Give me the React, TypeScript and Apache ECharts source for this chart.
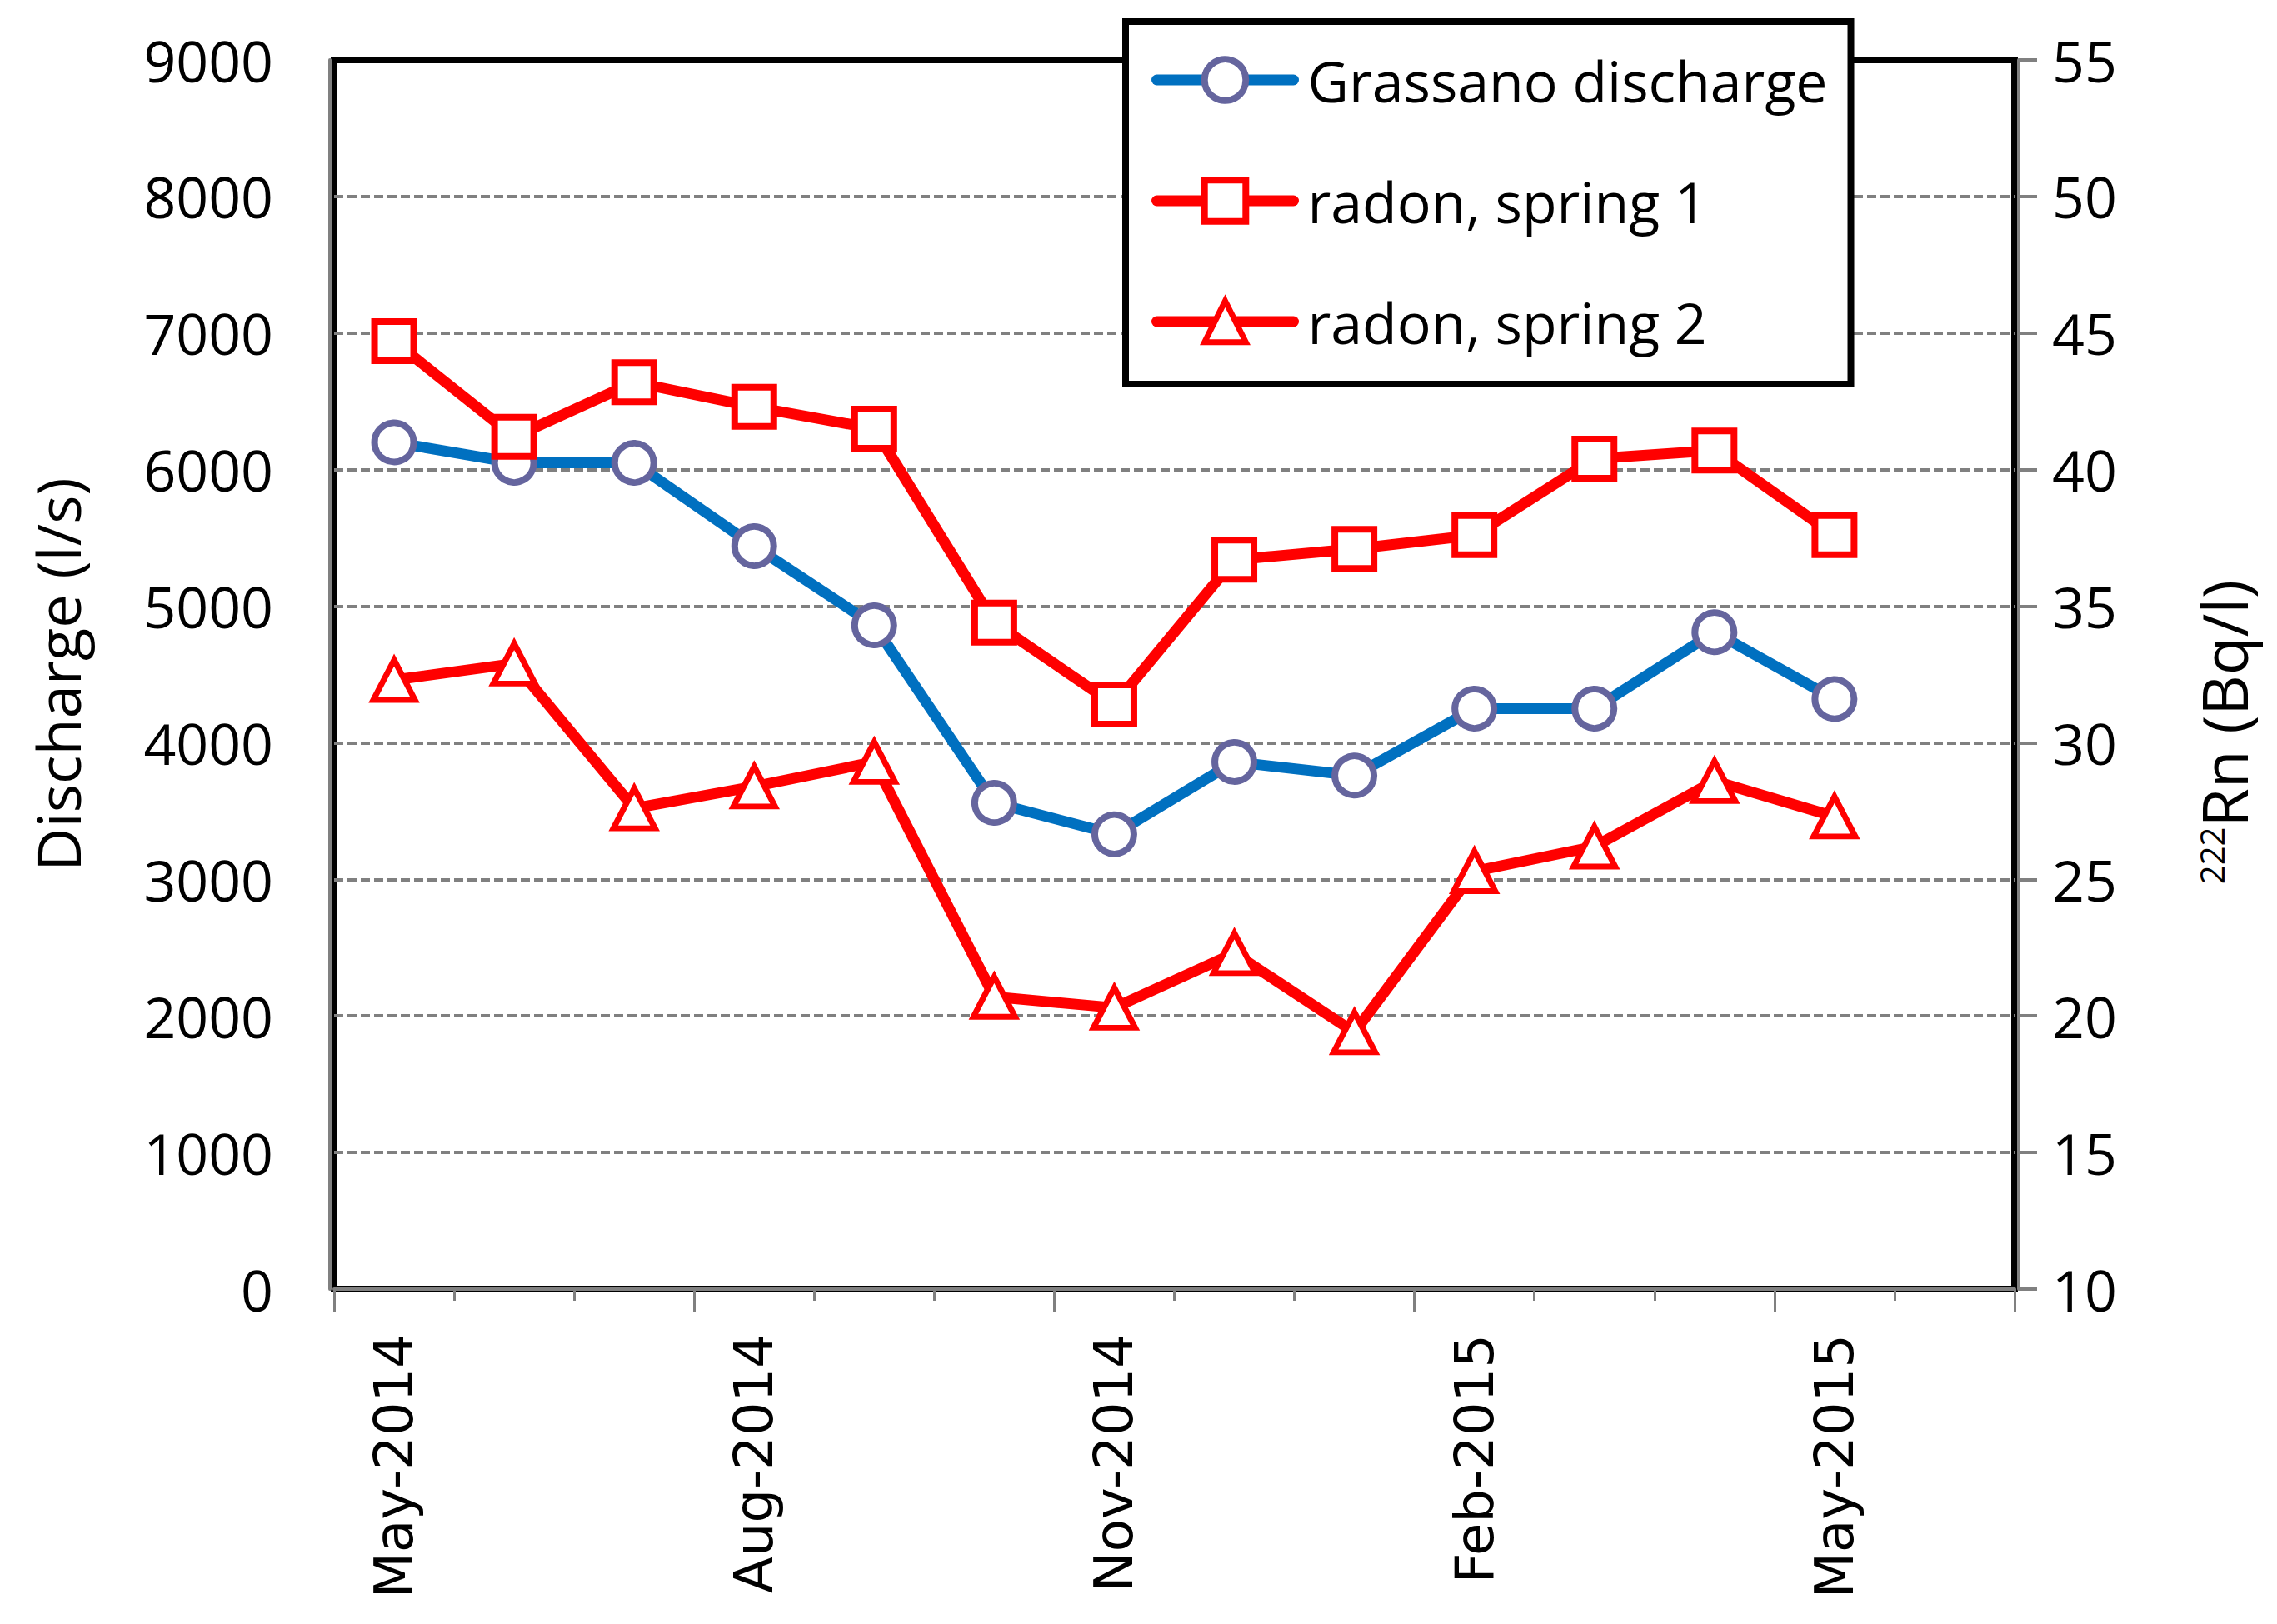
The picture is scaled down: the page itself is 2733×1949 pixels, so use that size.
import React, { useEffect, useRef } from "react";
import * as echarts from "echarts";

const categories = [
  "May-2014", "Jun-2014", "Jul-2014", "Aug-2014", "Sep-2014", "Oct-2014", "Nov-2014",
  "Dec-2014", "Jan-2015", "Feb-2015", "Mar-2015", "Apr-2015", "May-2015", "Jun-2015",
];
const discharge = [6200, 6050, 6050, 5440, 4860, 3560, 3330, 3860, 3760, 4250, 4250, 4810, 4320];
const radonSpring1 = [44.7, 41.2, 43.2, 42.3, 41.5, 34.4, 31.4, 36.7, 37.1, 37.6, 40.4, 40.7, 37.6];
const radonSpring2 = [32.3, 32.9, 27.6, 28.4, 29.3, 20.7, 20.3, 22.3, 19.4, 25.3, 26.2, 28.6, 27.3];
const leftTicks = { min: 0, max: 9000, interval: 1000 };
const rightTicks = { min: 10, max: 55, interval: 5 };

const FONT = "'Open Sans', 'Noto Sans', sans-serif";
const XFONT = "'DejaVu Sans', Verdana, sans-serif";
const GREY = "#808080";
const BLUE = "#0070C0";
const CIRCLE = "#65659E";
const RED = "#FF0000";

export default function App() {
  const ref = useRef<HTMLDivElement>(null);
  useEffect(() => {
    if (!ref.current) return;
    const chart = echarts.init(ref.current, null, { renderer: "svg" });
    const option: any = {
      animation: false,
      backgroundColor: "#fff",
      grid: {
        left: 401,
        right: 315,
        top: 72,
        bottom: 402,
        show: true,
        borderColor: "#000",
        borderWidth: 8,
        backgroundColor: "transparent",
      },
      legend: {
        orient: "vertical",
        left: 1351,
        top: 26,
        backgroundColor: "#fff",
        borderColor: "#000",
        borderWidth: 8,
        padding: [36, 28, 41, 31],
        itemWidth: 164,
        itemHeight: 62,
        itemGap: 77,
        z: 10,
        textStyle: {
          fontFamily: FONT,
          fontSize: 68,
          color: "#000",
          padding: [0, 0, 0, 12],
        },
        data: [
          {
            name: "Grassano discharge",
            itemStyle: { color: "#fff", borderColor: CIRCLE, borderWidth: 8 },
            lineStyle: { color: BLUE, width: 13 },
          },
          {
            name: "radon, spring 1",
            itemStyle: { color: "#fff", borderColor: RED, borderWidth: 8 },
            lineStyle: { color: RED, width: 13 },
          },
          {
            name: "radon, spring 2",
            itemStyle: { color: "#fff", borderColor: RED, borderWidth: 7 },
            lineStyle: { color: RED, width: 13 },
          },
        ],
      },
      xAxis: [
        {
          type: "category",
          data: categories,
          position: "bottom",
          boundaryGap: true,
          offset: 5,
          axisLine: { show: true, lineStyle: { color: GREY, width: 4 } },
          axisTick: { show: true, interval: 0, length: 14, lineStyle: { color: GREY, width: 3 } },
          axisLabel: {
            interval: 2,
            rotate: 90,
            margin: 49,
            fontFamily: XFONT,
            fontSize: 64,
            color: "#000",
          },
          splitLine: { show: false },
        },
        {
          type: "category",
          data: categories,
          position: "bottom",
          boundaryGap: true,
          offset: 5,
          axisLine: { show: false },
          axisTick: {
            show: true,
            interval: (i: number) => i % 3 === 0,
            length: 22,
            lineStyle: { color: GREY, width: 3 },
          },
          axisLabel: { show: false },
          splitLine: { show: false },
        },
      ],
      yAxis: [
        {
          type: "value",
          position: "left",
          min: leftTicks.min,
          max: leftTicks.max,
          interval: leftTicks.interval,
          offset: 5,
          name: "Discharge (l/s)",
          nameLocation: "middle",
          nameRotate: 90,
          nameGap: 291,
          nameTextStyle: { fontFamily: FONT, fontSize: 72, color: "#000" },
          axisLine: { show: true, lineStyle: { color: GREY, width: 4 } },
          axisTick: { show: false },
          axisLabel: {
            margin: 68,
            fontFamily: FONT,
            fontSize: 68,
            color: "#000",
            formatter: (v: number) => String(v),
          },
          splitLine: {
            show: true,
            showMinLine: false,
            showMaxLine: false,
            lineStyle: { color: GREY, width: 4, type: [11, 5] },
          },
        },
        {
          type: "value",
          position: "right",
          min: rightTicks.min,
          max: rightTicks.max,
          interval: rightTicks.interval,
          offset: 5,
          name: "{sup|222}{b|Rn (Bq/l)}",
          nameLocation: "middle",
          nameRotate: 90,
          nameGap: 208,
          nameTextStyle: {
            fontFamily: FONT,
            fontSize: 75,
            color: "#000",
            padding: [0, 138, 0, 0],
            rich: {
              sup: { fontFamily: FONT, fontSize: 40, color: "#000", padding: [0, 0, 29, 0] },
              b: { fontFamily: FONT, fontSize: 75, color: "#000" },
            },
          },
          axisLine: { show: true, lineStyle: { color: GREY, width: 4 } },
          axisTick: { show: true, length: 22, lineStyle: { color: GREY, width: 4 } },
          axisLabel: {
            margin: 40,
            fontFamily: FONT,
            fontSize: 68,
            color: "#000",
            formatter: (v: number) => String(v),
          },
          splitLine: { show: false },
        },
      ],
      series: [
        {
          name: "Grassano discharge",
          type: "line",
          xAxisIndex: 0,
          yAxisIndex: 0,
          data: discharge,
          symbol: "circle",
          symbolSize: 47,
          lineStyle: { color: BLUE, width: 13, cap: "round", join: "round" },
          itemStyle: { color: "#fff", borderColor: CIRCLE, borderWidth: 8 },
          z: 3,
        },
        {
          name: "radon, spring 1",
          type: "line",
          xAxisIndex: 0,
          yAxisIndex: 1,
          data: radonSpring1,
          symbol: "rect",
          symbolSize: 47,
          lineStyle: { color: RED, width: 13, cap: "round", join: "round" },
          itemStyle: { color: "#fff", borderColor: RED, borderWidth: 8 },
          z: 4,
        },
        {
          name: "radon, spring 2",
          type: "line",
          xAxisIndex: 0,
          yAxisIndex: 1,
          data: radonSpring2,
          symbol: "triangle",
          symbolSize: [50, 48],
          lineStyle: { color: RED, width: 13, cap: "round", join: "round" },
          itemStyle: { color: "#fff", borderColor: RED, borderWidth: 7 },
          z: 5,
        },
      ],
    };
    chart.setOption(option);
    return () => chart.dispose();
  }, []);
  return (
    <div
      ref={ref}
      style={{ position: "fixed", left: 0, top: 0, width: 2733, height: 1949, background: "#fff" }}
    />
  );
}
